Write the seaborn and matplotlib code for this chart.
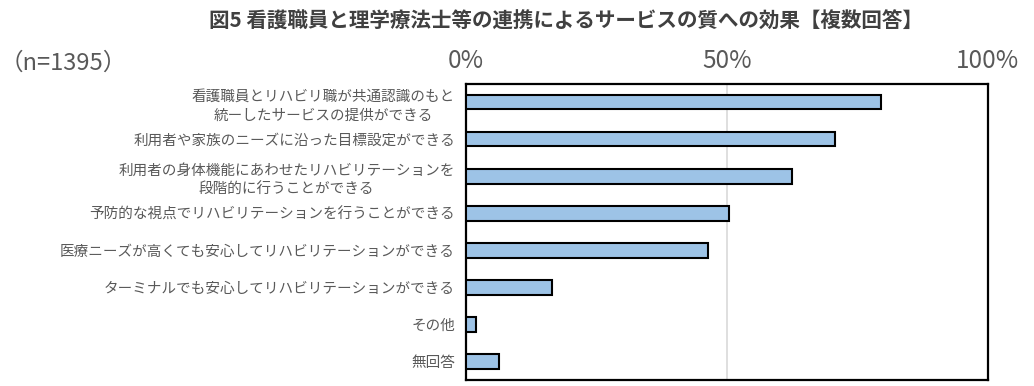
import seaborn as sns
import matplotlib.pyplot as plt
import pandas as pd

categorias = [
    "看護職員とリハビリ職が共通認識のもと\n統ーしたサービスの提供ができる",
    "利用者や家族のニーズに沿った目標設定ができる",
    "利用者の身体機能にあわせたリハビリテーションを\n段階的に行うことができる",
    "予防的な視点でリハビリテーションを行うことができる",
    "医療ニーズが高くても安心してリハビリテーションができる",
    "ターミナルでも安心してリハビリテーションができる",
    "その他",
    "無回答",
]
valores = [79.5, 70.6, 62.4, 50.4, 46.4, 16.4, 1.9, 6.4]
ticks = [0, 50, 100]
tick_labels = ["0%", "50%", "100%"]

df = pd.DataFrame({"categoria": categorias, "valor": valores})

sns.set_theme(style="white")
plt.rcParams['font.family'] = ['Noto Sans CJK JP', 'DejaVu Sans']

fig = plt.figure(figsize=(10.34, 3.86), dpi=100)
ax = fig.add_axes([0.4507, 0.0155, 0.5048, 0.767])

sns.barplot(data=df, x="valor", y="categoria", color="#9DC3E6", saturation=1,
            edgecolor="black", linewidth=1.5, width=0.38, ax=ax, zorder=3)

ax.set_xlim(0, 100)
ax.set_ylim(7.5, -0.5)
ax.xaxis.tick_top()
ax.set_xticks(ticks)
ax.set_xticklabels(tick_labels, fontsize=17.5, color="#595959")
ax.tick_params(axis="x", length=0, pad=7)
ax.tick_params(axis="y", length=0, pad=8)
for lbl in ax.get_yticklabels():
    lbl.set_fontsize(10.5)
    lbl.set_color("#595959")
    lbl.set_multialignment("center")
    lbl.set_linespacing(1.4)
ax.axvline(50, color="#d9d9d9", linewidth=1.2, zorder=1)
for s in ax.spines.values():
    s.set_color("black")
    s.set_linewidth(1.6)
ax.set_xlabel("")
ax.set_ylabel("")

fig.text(0.547, 0.945, "図5 看護職員と理学療法士等の連携によるサービスの質への効果【複数回答】",
         ha="center", va="center", fontsize=14.8, fontweight="bold", color="#404040")
fig.text(0.0, 0.835, "（n=1395）", ha="left", va="center", fontsize=17, color="#595959")

fig.savefig("out.png", dpi=100)
plt.close()
